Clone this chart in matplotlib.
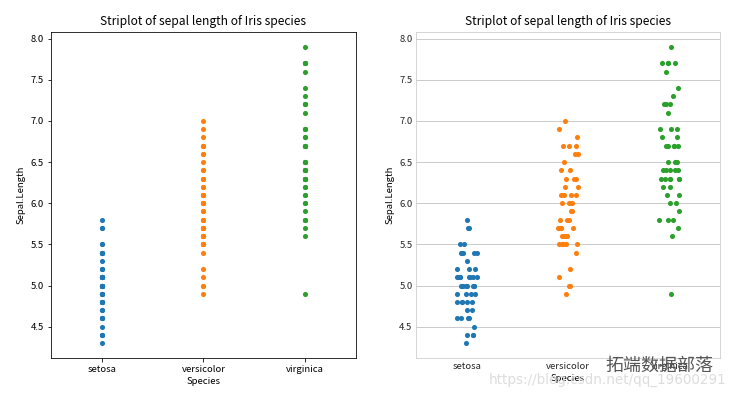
import numpy as np
import matplotlib
matplotlib.use("Agg")
import matplotlib.pyplot as plt

plt.rcParams['font.family'] = ['Noto Sans CJK SC', 'DejaVu Sans']

# iris sepal length, per species
species = ["setosa", "versicolor", "virginica"]
setosa = [5.1, 4.9, 4.7, 4.6, 5.0, 5.4, 4.6, 5.0, 4.4, 4.9, 5.4, 4.8, 4.8, 4.3, 5.8, 5.7, 5.4,
          5.1, 5.7, 5.1, 5.4, 5.1, 4.6, 5.1, 4.8, 5.0, 5.0, 5.2, 5.2, 4.7, 4.8, 5.4, 5.2, 5.5,
          4.9, 5.0, 5.5, 4.9, 4.4, 5.1, 5.0, 4.5, 4.4, 5.0, 5.1, 4.8, 5.1, 4.6, 5.3, 5.0]
versicolor = [7.0, 6.4, 6.9, 5.5, 6.5, 5.7, 6.3, 4.9, 6.6, 5.2, 5.0, 5.9, 6.0, 6.1, 5.6, 6.7, 5.6,
              5.8, 6.2, 5.6, 5.9, 6.1, 6.3, 6.1, 6.4, 6.6, 6.8, 6.7, 6.0, 5.7, 5.5, 5.5, 5.8, 6.0,
              5.4, 6.0, 6.7, 6.3, 5.6, 5.5, 5.5, 6.1, 5.8, 5.0, 5.6, 5.7, 5.7, 6.2, 5.1, 5.7]
virginica = [6.3, 5.8, 7.1, 6.3, 6.5, 7.6, 4.9, 7.3, 6.7, 7.2, 6.5, 6.4, 6.8, 5.7, 5.8, 6.4, 6.5,
             7.7, 7.7, 6.0, 6.9, 5.6, 7.7, 6.3, 6.7, 7.2, 6.2, 6.1, 6.4, 7.2, 7.4, 7.9, 6.4, 6.3,
             6.1, 7.7, 6.3, 6.4, 6.0, 6.9, 6.7, 6.9, 5.8, 6.8, 6.7, 6.7, 6.3, 6.5, 6.2, 5.9]
groups = [setosa, versicolor, virginica]
colors = ["#1f77b4", "#ff7f0e", "#2ca02c"]
title = "Striplot of sepal length of Iris species"

fig = plt.figure(figsize=(737/72, 398/72), dpi=72)
ax1 = fig.add_axes([0.0692, 0.1005, 0.4138, 0.819])
ax2 = fig.add_axes([0.5645, 0.1005, 0.4125, 0.819])

# left: plain matplotlib style, no jitter
for i, vals in enumerate(groups):
    ax1.scatter(np.full(len(vals), i), vals, s=26, color=colors[i], linewidths=0, zorder=3)

# right: seaborn-whitegrid look, with stripplot style jitter
rng = np.random.default_rng(7)
for i, vals in enumerate(groups):
    jit = rng.uniform(-0.1, 0.1, len(vals))
    ax2.scatter(i + jit, vals, s=26, color=colors[i], linewidths=0, zorder=3)

for ax in (ax1, ax2):
    ax.set_xlim(-0.5, 2.5)
    ax.set_ylim(4.12, 8.08)
    ax.set_xticks(range(3))
    ax.set_xticklabels(species)
    ax.set_yticks(np.arange(4.5, 8.01, 0.5))
    ax.set_title(title, fontsize=12, pad=7)
    ax.set_xlabel("Species", fontsize=9.5, labelpad=3)
    ax.set_ylabel("Sepal.Length", fontsize=9.5, labelpad=5)
    ax.tick_params(labelsize=9.5)

ax2.set_facecolor("white")
ax2.grid(axis="y", color="#cccccc", linewidth=1)
ax2.set_axisbelow(True)
for sp in ax2.spines.values():
    sp.set_color("#cccccc")
ax2.tick_params(length=0, labelcolor="#262626")

# watermark
fig.text(0.895, 0.08, "拓端数据部落", fontsize=18, color="#555555", ha="center", va="center")
fig.text(0.825, 0.045, "https://blog.csdn.net/qq_19600291", fontsize=13.5, color="#dddddd",
         ha="center", va="center", family="DejaVu Sans")

fig.savefig("out.png", dpi=72)
